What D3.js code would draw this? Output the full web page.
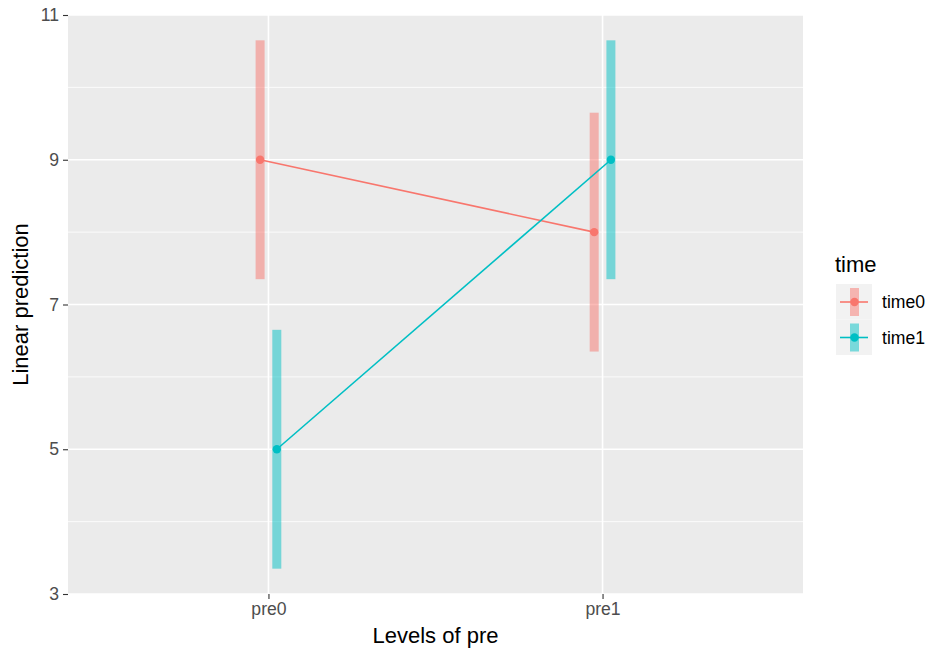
<!DOCTYPE html>
<html><head><meta charset="utf-8">
<script src="https://cdn.jsdelivr.net/npm/d3@7"></script>
<style>body{margin:0;background:#fff;} text{font-family:"Liberation Sans",Arial,sans-serif;}</style>
</head><body><svg id="c" width="930" height="652"></svg>
<script>
const categories = ["pre0", "pre1"];
const seriesNames = ["time0", "time1"];
const time0 = [9, 8];
const time1 = [5, 9];
const time0Lo = [7.35, 6.35];
const time0Hi = [10.65, 9.65];
const time1Lo = [3.35, 7.35];
const time1Hi = [6.65, 10.65];
const yTicks = [3, 5, 7, 9, 11];
const colors = ["#F8766D", "#00BFC4"];

const series = [
  {name: seriesNames[0], vals: time0, lo: time0Lo, hi: time0Hi, color: colors[0], off: -0.025},
  {name: seriesNames[1], vals: time1, lo: time1Lo, hi: time1Hi, color: colors[1], off: 0.025}
];

const svg = d3.select("#c");
const L = 68, R = 803, T = 15, B = 594;
const xi = d3.scaleLinear().domain([0.4, 2.6]).range([L, R]);
const y = d3.scaleLinear().domain([3, 11]).range([B, T]);

svg.append("rect").attr("x", L).attr("y", T).attr("width", R - L).attr("height", B - T).attr("fill", "#EBEBEB");
const minor = [4, 6, 8, 10];
svg.selectAll(".mg").data(minor).enter().append("line")
  .attr("x1", L).attr("x2", R).attr("y1", d => y(d)).attr("y2", d => y(d))
  .attr("stroke", "#fff").attr("stroke-width", 0.8);
svg.selectAll(".gy").data(yTicks).enter().append("line")
  .attr("x1", L).attr("x2", R).attr("y1", d => y(d)).attr("y2", d => y(d))
  .attr("stroke", "#fff").attr("stroke-width", 1.6);
svg.selectAll(".gx").data(categories).enter().append("line")
  .attr("x1", (d, i) => xi(i + 1)).attr("x2", (d, i) => xi(i + 1)).attr("y1", T).attr("y2", B)
  .attr("stroke", "#fff").attr("stroke-width", 1.6);

const yAxis = d3.axisLeft(y).tickValues(yTicks).tickSize(5).tickPadding(4);
const gy = svg.append("g").attr("transform", `translate(${L},0)`).call(yAxis);
gy.select(".domain").remove();
gy.selectAll("line").attr("stroke", "#333").attr("stroke-width", 1.1);
gy.selectAll("text").attr("fill", "#4D4D4D").style("font-size", "17.6px").style("font-family", "Liberation Sans, Arial, sans-serif");

const xb = d3.scalePoint().domain(categories).range([xi(1), xi(2)]);
const xAxis = d3.axisBottom(xb).tickSize(5).tickPadding(4);
const gx = svg.append("g").attr("transform", `translate(0,${B})`).call(xAxis);
gx.select(".domain").remove();
gx.selectAll("line").attr("stroke", "#333").attr("stroke-width", 1.1);
gx.selectAll("text").attr("fill", "#4D4D4D").style("font-size", "17.6px").style("font-family", "Liberation Sans, Arial, sans-serif");

series.forEach(s => {
  svg.selectAll(null).data(s.vals).enter().append("rect")
    .attr("x", (d, i) => xi(i + 1 + s.off) - 4.5)
    .attr("width", 9)
    .attr("y", (d, i) => y(s.hi[i]))
    .attr("height", (d, i) => y(s.lo[i]) - y(s.hi[i]))
    .attr("fill", s.color).attr("opacity", 0.5);
});
series.forEach(s => {
  const line = d3.line().x((d, i) => xi(i + 1 + s.off)).y(d => y(d));
  svg.append("path").datum(s.vals).attr("d", line).attr("fill", "none")
    .attr("stroke", s.color).attr("stroke-width", 1.6);
  svg.selectAll(null).data(s.vals).enter().append("circle")
    .attr("cx", (d, i) => xi(i + 1 + s.off)).attr("cy", d => y(d)).attr("r", 4.2)
    .attr("fill", s.color);
});

svg.append("text").attr("x", (L + R) / 2).attr("y", 643).attr("text-anchor", "middle")
  .style("font-size", "22px").attr("fill", "#000").text("Levels of pre");
svg.append("text").attr("transform", `translate(28,${(T + B) / 2}) rotate(-90)`).attr("text-anchor", "middle")
  .style("font-size", "22px").attr("fill", "#000").text("Linear prediction");

svg.append("text").attr("x", 835).attr("y", 272).style("font-size", "22px").attr("fill", "#000").text("time");
series.forEach((s, k) => {
  const ky = 284 + k * 35.5;
  const g = svg.append("g");
  g.append("rect").attr("x", 836).attr("y", ky).attr("width", 36).attr("height", 35.5).attr("fill", "#F2F2F2");
  g.append("rect").attr("x", 850).attr("y", ky + 4).attr("width", 9).attr("height", 28).attr("fill", s.color).attr("opacity", 0.5);
  g.append("line").attr("x1", 840).attr("x2", 868).attr("y1", ky + 18).attr("y2", ky + 18).attr("stroke", s.color).attr("stroke-width", 1.6);
  g.append("circle").attr("cx", 854.5).attr("cy", ky + 18).attr("r", 4.2).attr("fill", s.color);
  g.append("text").attr("x", 882).attr("y", ky + 18).attr("dy", "0.35em").style("font-size", "17.6px").attr("fill", "#000").text(s.name);
});
</script></body></html>
